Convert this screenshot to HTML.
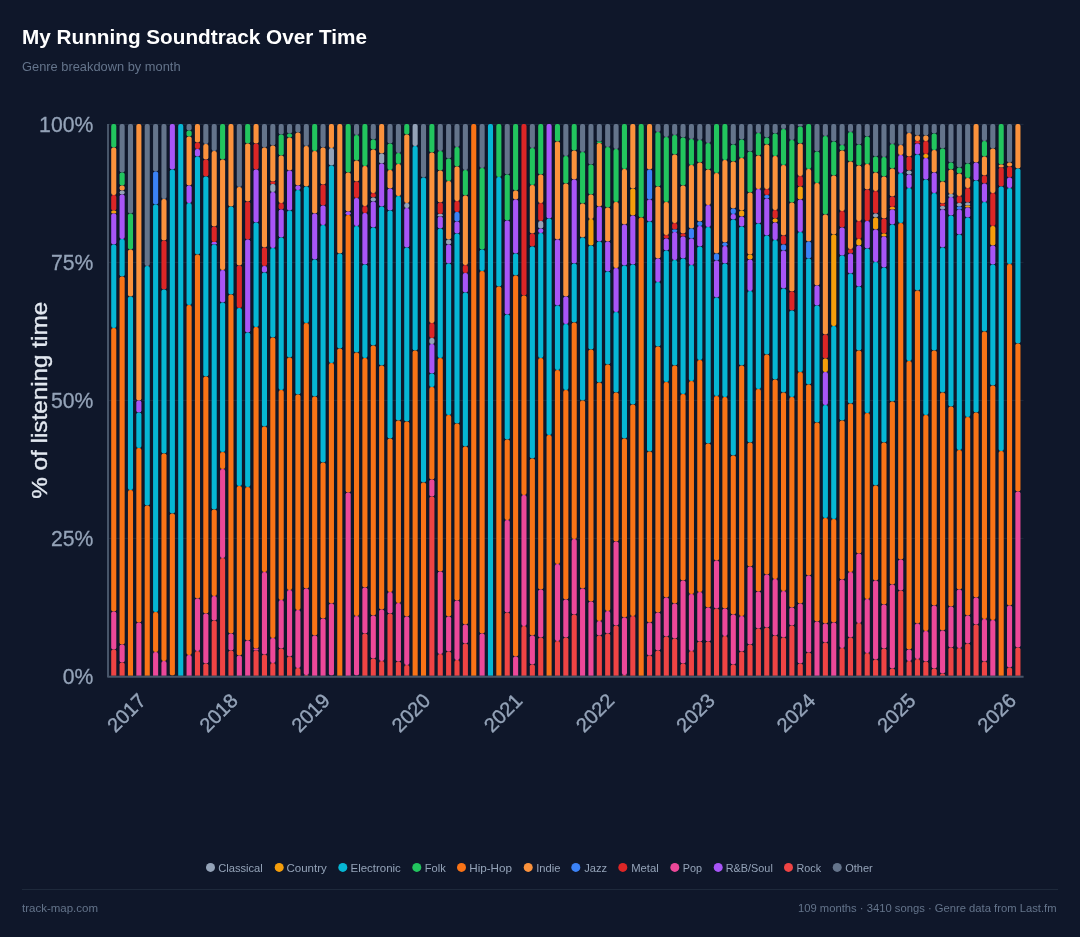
<!DOCTYPE html>
<html><head><meta charset="utf-8"><title>My Running Soundtrack Over Time</title>
<style>
html,body{margin:0;padding:0;background:#0f172a;}
body{width:1080px;height:937px;overflow:hidden;font-family:"Liberation Sans",sans-serif;}
svg{display:block}
text{font-family:"Liberation Sans",sans-serif;}
.tick{font-size:22px;fill:#94a3b8;stroke:#94a3b8;stroke-width:0.3px}
.xt{font-size:20px;fill:#94a3b8;stroke:#94a3b8;stroke-width:0.4px}
.lg{font-size:11px;fill:#94a3b8}
.ft{font-size:11px;fill:#64748b}
</style></head>
<body>
<svg style="will-change:transform" width="1080" height="937" viewBox="0 0 1080 937">
<rect width="1080" height="937" fill="#0f172a"/>
<text id="title" x="22" y="43.9" font-size="20" font-weight="bold" fill="#ffffff" textLength="345" lengthAdjust="spacingAndGlyphs">My Running Soundtrack Over Time</text>
<text id="sub" x="22" y="71.3" font-size="13" fill="#64748b" textLength="158.6" lengthAdjust="spacingAndGlyphs">Genre breakdown by month</text>
<!-- gridlines -->
<g stroke="#1f2a3d" stroke-width="1">
<line x1="108" x2="1023.5" y1="124.4" y2="124.4"/>
<line x1="108" x2="1023.5" y1="262.4" y2="262.4"/>
<line x1="108" x2="1023.5" y1="400.4" y2="400.4"/>
<line x1="108" x2="1023.5" y1="538.4" y2="538.4"/>
</g>
<!-- y tick labels -->
<g class="tick" text-anchor="end">
<text x="93.3" y="132.2" textLength="54.2" lengthAdjust="spacingAndGlyphs">100%</text>
<text x="93.3" y="270.2" textLength="42.4" lengthAdjust="spacingAndGlyphs">75%</text>
<text x="93.3" y="408.2" textLength="42.4" lengthAdjust="spacingAndGlyphs">50%</text>
<text x="93.3" y="546.2" textLength="42.4" lengthAdjust="spacingAndGlyphs">25%</text>
<text x="93.3" y="684.2" textLength="30.6" lengthAdjust="spacingAndGlyphs">0%</text>
</g>
<text id="ytitle" transform="translate(46.5,400.3) rotate(-90)" text-anchor="middle" font-size="21.5" fill="#e2e8f0" stroke="#e2e8f0" stroke-width="0.35" textLength="197" lengthAdjust="spacingAndGlyphs">% of listening time</text>
<defs><clipPath id="cp"><rect x="100" y="100" width="940" height="575.8"/></clipPath></defs>
<g id="bars" clip-path="url(#cp)">
<rect x="111.20" y="124.10" width="5.1" height="23.30" rx="2.00" fill="#22c55e"/>
<rect x="111.20" y="147.40" width="5.1" height="47.60" rx="2.00" fill="#fb923c"/>
<rect x="111.20" y="195.00" width="5.1" height="15.60" rx="2.00" fill="#dc2626"/>
<rect x="111.20" y="210.60" width="5.1" height="3.00" rx="1.50" fill="#f59e0b"/>
<rect x="111.20" y="213.60" width="5.1" height="30.80" rx="2.00" fill="#a855f7"/>
<rect x="111.20" y="244.40" width="5.1" height="83.60" rx="2.00" fill="#06b6d4"/>
<rect x="111.20" y="328.00" width="5.1" height="283.40" rx="2.00" fill="#f97316"/>
<rect x="111.20" y="611.40" width="5.1" height="38.00" rx="2.00" fill="#ec4899"/>
<rect x="111.20" y="649.40" width="5.1" height="30.90" rx="2.00" fill="#ef4444"/>
<rect x="119.57" y="124.10" width="5.1" height="48.50" rx="2.00" fill="#64748b"/>
<rect x="119.57" y="172.60" width="5.1" height="12.80" rx="2.00" fill="#22c55e"/>
<rect x="119.57" y="185.40" width="5.1" height="5.00" rx="2.00" fill="#fb923c"/>
<rect x="119.57" y="190.40" width="5.1" height="4.00" rx="2.00" fill="#94a3b8"/>
<rect x="119.57" y="194.40" width="5.1" height="44.60" rx="2.00" fill="#a855f7"/>
<rect x="119.57" y="239.00" width="5.1" height="37.40" rx="2.00" fill="#06b6d4"/>
<rect x="119.57" y="276.40" width="5.1" height="368.00" rx="2.00" fill="#f97316"/>
<rect x="119.57" y="644.40" width="5.1" height="18.00" rx="2.00" fill="#ec4899"/>
<rect x="119.57" y="662.40" width="5.1" height="17.90" rx="2.00" fill="#ef4444"/>
<rect x="127.94" y="124.10" width="5.1" height="89.50" rx="2.00" fill="#64748b"/>
<rect x="127.94" y="213.60" width="5.1" height="36.00" rx="2.00" fill="#22c55e"/>
<rect x="127.94" y="249.60" width="5.1" height="46.80" rx="2.00" fill="#fb923c"/>
<rect x="127.94" y="296.40" width="5.1" height="193.60" rx="2.00" fill="#06b6d4"/>
<rect x="127.94" y="490.00" width="5.1" height="190.30" rx="2.00" fill="#f97316"/>
<rect x="136.32" y="124.10" width="5.1" height="276.30" rx="2.00" fill="#fb923c"/>
<rect x="136.32" y="400.40" width="5.1" height="12.00" rx="2.00" fill="#a855f7"/>
<rect x="136.32" y="412.40" width="5.1" height="35.60" rx="2.00" fill="#06b6d4"/>
<rect x="136.32" y="448.00" width="5.1" height="174.40" rx="2.00" fill="#f97316"/>
<rect x="136.32" y="622.40" width="5.1" height="57.90" rx="2.00" fill="#ec4899"/>
<rect x="144.69" y="124.10" width="5.1" height="141.90" rx="2.00" fill="#64748b"/>
<rect x="144.69" y="266.00" width="5.1" height="239.60" rx="2.00" fill="#06b6d4"/>
<rect x="144.69" y="505.60" width="5.1" height="174.70" rx="2.00" fill="#f97316"/>
<rect x="153.06" y="124.10" width="5.1" height="47.30" rx="2.00" fill="#64748b"/>
<rect x="153.06" y="171.40" width="5.1" height="33.00" rx="2.00" fill="#3b82f6"/>
<rect x="153.06" y="204.40" width="5.1" height="407.60" rx="2.00" fill="#06b6d4"/>
<rect x="153.06" y="612.00" width="5.1" height="40.00" rx="2.00" fill="#f97316"/>
<rect x="153.06" y="652.00" width="5.1" height="28.30" rx="2.00" fill="#ec4899"/>
<rect x="161.43" y="124.10" width="5.1" height="74.90" rx="2.00" fill="#64748b"/>
<rect x="161.43" y="199.00" width="5.1" height="41.60" rx="2.00" fill="#fb923c"/>
<rect x="161.43" y="240.60" width="5.1" height="49.00" rx="2.00" fill="#dc2626"/>
<rect x="161.43" y="289.60" width="5.1" height="163.80" rx="2.00" fill="#06b6d4"/>
<rect x="161.43" y="453.40" width="5.1" height="207.60" rx="2.00" fill="#f97316"/>
<rect x="161.43" y="661.00" width="5.1" height="19.30" rx="2.00" fill="#ec4899"/>
<rect x="169.80" y="124.10" width="5.1" height="45.30" rx="2.00" fill="#a855f7"/>
<rect x="169.80" y="169.40" width="5.1" height="344.00" rx="2.00" fill="#06b6d4"/>
<rect x="169.80" y="513.40" width="5.1" height="162.20" rx="2.00" fill="#f97316"/>
<rect x="178.18" y="124.10" width="5.1" height="556.20" rx="2.00" fill="#06b6d4"/>
<rect x="186.55" y="124.10" width="5.1" height="6.30" rx="2.00" fill="#64748b"/>
<rect x="186.55" y="130.40" width="5.1" height="6.20" rx="2.00" fill="#22c55e"/>
<rect x="186.55" y="136.60" width="5.1" height="48.80" rx="2.00" fill="#fb923c"/>
<rect x="186.55" y="185.40" width="5.1" height="17.60" rx="2.00" fill="#a855f7"/>
<rect x="186.55" y="203.00" width="5.1" height="102.00" rx="2.00" fill="#06b6d4"/>
<rect x="186.55" y="305.00" width="5.1" height="350.00" rx="2.00" fill="#f97316"/>
<rect x="186.55" y="655.00" width="5.1" height="25.30" rx="2.00" fill="#ec4899"/>
<rect x="194.92" y="124.10" width="5.1" height="18.30" rx="2.00" fill="#fb923c"/>
<rect x="194.92" y="142.40" width="5.1" height="6.60" rx="2.00" fill="#dc2626"/>
<rect x="194.92" y="149.00" width="5.1" height="7.60" rx="2.00" fill="#a855f7"/>
<rect x="194.92" y="156.60" width="5.1" height="97.80" rx="2.00" fill="#06b6d4"/>
<rect x="194.92" y="254.40" width="5.1" height="344.20" rx="2.00" fill="#f97316"/>
<rect x="194.92" y="598.60" width="5.1" height="52.40" rx="2.00" fill="#ec4899"/>
<rect x="194.92" y="651.00" width="5.1" height="29.30" rx="2.00" fill="#ef4444"/>
<rect x="203.29" y="124.10" width="5.1" height="19.90" rx="2.00" fill="#64748b"/>
<rect x="203.29" y="144.00" width="5.1" height="15.60" rx="2.00" fill="#fb923c"/>
<rect x="203.29" y="159.60" width="5.1" height="17.00" rx="2.00" fill="#dc2626"/>
<rect x="203.29" y="176.60" width="5.1" height="199.80" rx="2.00" fill="#06b6d4"/>
<rect x="203.29" y="376.40" width="5.1" height="237.00" rx="2.00" fill="#f97316"/>
<rect x="203.29" y="613.40" width="5.1" height="50.20" rx="2.00" fill="#ec4899"/>
<rect x="203.29" y="663.60" width="5.1" height="16.70" rx="2.00" fill="#ef4444"/>
<rect x="211.66" y="124.10" width="5.1" height="26.90" rx="2.00" fill="#64748b"/>
<rect x="211.66" y="151.00" width="5.1" height="75.60" rx="2.00" fill="#fb923c"/>
<rect x="211.66" y="226.60" width="5.1" height="15.40" rx="2.00" fill="#dc2626"/>
<rect x="211.66" y="242.00" width="5.1" height="2.40" rx="1.20" fill="#a855f7"/>
<rect x="211.66" y="244.40" width="5.1" height="265.00" rx="2.00" fill="#06b6d4"/>
<rect x="211.66" y="509.40" width="5.1" height="86.60" rx="2.00" fill="#f97316"/>
<rect x="211.66" y="596.00" width="5.1" height="24.40" rx="2.00" fill="#ec4899"/>
<rect x="211.66" y="620.40" width="5.1" height="59.90" rx="2.00" fill="#ef4444"/>
<rect x="220.04" y="124.10" width="5.1" height="35.50" rx="2.00" fill="#22c55e"/>
<rect x="220.04" y="159.60" width="5.1" height="110.40" rx="2.00" fill="#fb923c"/>
<rect x="220.04" y="270.00" width="5.1" height="32.40" rx="2.00" fill="#a855f7"/>
<rect x="220.04" y="302.40" width="5.1" height="149.60" rx="2.00" fill="#06b6d4"/>
<rect x="220.04" y="452.00" width="5.1" height="17.00" rx="2.00" fill="#f97316"/>
<rect x="220.04" y="469.00" width="5.1" height="89.00" rx="2.00" fill="#ec4899"/>
<rect x="220.04" y="558.00" width="5.1" height="122.30" rx="2.00" fill="#ef4444"/>
<rect x="228.41" y="124.10" width="5.1" height="82.30" rx="2.00" fill="#fb923c"/>
<rect x="228.41" y="206.40" width="5.1" height="88.00" rx="2.00" fill="#06b6d4"/>
<rect x="228.41" y="294.40" width="5.1" height="339.20" rx="2.00" fill="#f97316"/>
<rect x="228.41" y="633.60" width="5.1" height="17.00" rx="2.00" fill="#ec4899"/>
<rect x="228.41" y="650.60" width="5.1" height="29.70" rx="2.00" fill="#ef4444"/>
<rect x="236.78" y="124.10" width="5.1" height="62.90" rx="2.00" fill="#64748b"/>
<rect x="236.78" y="187.00" width="5.1" height="78.40" rx="2.00" fill="#fb923c"/>
<rect x="236.78" y="265.40" width="5.1" height="42.60" rx="2.00" fill="#dc2626"/>
<rect x="236.78" y="308.00" width="5.1" height="178.00" rx="2.00" fill="#06b6d4"/>
<rect x="236.78" y="486.00" width="5.1" height="169.60" rx="2.00" fill="#f97316"/>
<rect x="236.78" y="655.60" width="5.1" height="24.70" rx="2.00" fill="#ec4899"/>
<rect x="245.15" y="124.10" width="5.1" height="19.30" rx="2.00" fill="#22c55e"/>
<rect x="245.15" y="143.40" width="5.1" height="58.00" rx="2.00" fill="#fb923c"/>
<rect x="245.15" y="201.40" width="5.1" height="38.20" rx="2.00" fill="#dc2626"/>
<rect x="245.15" y="239.60" width="5.1" height="93.00" rx="2.00" fill="#a855f7"/>
<rect x="245.15" y="332.60" width="5.1" height="154.40" rx="2.00" fill="#06b6d4"/>
<rect x="245.15" y="487.00" width="5.1" height="153.60" rx="2.00" fill="#f97316"/>
<rect x="245.15" y="640.60" width="5.1" height="39.70" rx="2.00" fill="#ec4899"/>
<rect x="253.52" y="124.10" width="5.1" height="19.30" rx="2.00" fill="#fb923c"/>
<rect x="253.52" y="143.40" width="5.1" height="26.00" rx="2.00" fill="#dc2626"/>
<rect x="253.52" y="169.40" width="5.1" height="53.20" rx="2.00" fill="#a855f7"/>
<rect x="253.52" y="222.60" width="5.1" height="104.40" rx="2.00" fill="#06b6d4"/>
<rect x="253.52" y="327.00" width="5.1" height="321.60" rx="2.00" fill="#f97316"/>
<rect x="253.52" y="648.60" width="5.1" height="2.00" rx="1.00" fill="#ec4899"/>
<rect x="253.52" y="650.60" width="5.1" height="29.70" rx="2.00" fill="#ef4444"/>
<rect x="261.90" y="124.10" width="5.1" height="23.30" rx="2.00" fill="#64748b"/>
<rect x="261.90" y="147.40" width="5.1" height="100.00" rx="2.00" fill="#fb923c"/>
<rect x="261.90" y="247.40" width="5.1" height="18.60" rx="2.00" fill="#dc2626"/>
<rect x="261.90" y="266.00" width="5.1" height="6.40" rx="2.00" fill="#a855f7"/>
<rect x="261.90" y="272.40" width="5.1" height="154.00" rx="2.00" fill="#06b6d4"/>
<rect x="261.90" y="426.40" width="5.1" height="145.60" rx="2.00" fill="#f97316"/>
<rect x="261.90" y="572.00" width="5.1" height="82.60" rx="2.00" fill="#ec4899"/>
<rect x="261.90" y="654.60" width="5.1" height="25.70" rx="2.00" fill="#ef4444"/>
<rect x="270.27" y="124.10" width="5.1" height="21.30" rx="2.00" fill="#64748b"/>
<rect x="270.27" y="145.40" width="5.1" height="36.20" rx="2.00" fill="#fb923c"/>
<rect x="270.27" y="181.60" width="5.1" height="2.40" rx="1.20" fill="#dc2626"/>
<rect x="270.27" y="184.00" width="5.1" height="8.00" rx="2.00" fill="#94a3b8"/>
<rect x="270.27" y="192.00" width="5.1" height="56.00" rx="2.00" fill="#a855f7"/>
<rect x="270.27" y="248.00" width="5.1" height="89.40" rx="2.00" fill="#06b6d4"/>
<rect x="270.27" y="337.40" width="5.1" height="300.60" rx="2.00" fill="#f97316"/>
<rect x="270.27" y="638.00" width="5.1" height="25.00" rx="2.00" fill="#ec4899"/>
<rect x="270.27" y="663.00" width="5.1" height="17.30" rx="2.00" fill="#ef4444"/>
<rect x="278.64" y="124.10" width="5.1" height="10.50" rx="2.00" fill="#64748b"/>
<rect x="278.64" y="134.60" width="5.1" height="21.00" rx="2.00" fill="#22c55e"/>
<rect x="278.64" y="155.60" width="5.1" height="47.40" rx="2.00" fill="#fb923c"/>
<rect x="278.64" y="203.00" width="5.1" height="6.60" rx="2.00" fill="#dc2626"/>
<rect x="278.64" y="209.60" width="5.1" height="27.80" rx="2.00" fill="#a855f7"/>
<rect x="278.64" y="237.40" width="5.1" height="152.60" rx="2.00" fill="#06b6d4"/>
<rect x="278.64" y="390.00" width="5.1" height="210.00" rx="2.00" fill="#f97316"/>
<rect x="278.64" y="600.00" width="5.1" height="48.40" rx="2.00" fill="#ec4899"/>
<rect x="278.64" y="648.40" width="5.1" height="31.90" rx="2.00" fill="#ef4444"/>
<rect x="287.01" y="124.10" width="5.1" height="9.50" rx="2.00" fill="#64748b"/>
<rect x="287.01" y="133.60" width="5.1" height="4.00" rx="2.00" fill="#22c55e"/>
<rect x="287.01" y="137.60" width="5.1" height="32.80" rx="2.00" fill="#fb923c"/>
<rect x="287.01" y="170.40" width="5.1" height="40.00" rx="2.00" fill="#a855f7"/>
<rect x="287.01" y="210.40" width="5.1" height="147.00" rx="2.00" fill="#06b6d4"/>
<rect x="287.01" y="357.40" width="5.1" height="232.60" rx="2.00" fill="#f97316"/>
<rect x="287.01" y="590.00" width="5.1" height="66.60" rx="2.00" fill="#ec4899"/>
<rect x="287.01" y="656.60" width="5.1" height="23.70" rx="2.00" fill="#ef4444"/>
<rect x="295.38" y="124.10" width="5.1" height="8.30" rx="2.00" fill="#64748b"/>
<rect x="295.38" y="132.40" width="5.1" height="53.00" rx="2.00" fill="#fb923c"/>
<rect x="295.38" y="185.40" width="5.1" height="4.60" rx="2.00" fill="#a855f7"/>
<rect x="295.38" y="190.00" width="5.1" height="204.40" rx="2.00" fill="#06b6d4"/>
<rect x="295.38" y="394.40" width="5.1" height="215.60" rx="2.00" fill="#f97316"/>
<rect x="295.38" y="610.00" width="5.1" height="58.00" rx="2.00" fill="#ec4899"/>
<rect x="295.38" y="668.00" width="5.1" height="12.30" rx="2.00" fill="#ef4444"/>
<rect x="303.76" y="124.10" width="5.1" height="21.90" rx="2.00" fill="#64748b"/>
<rect x="303.76" y="146.00" width="5.1" height="40.60" rx="2.00" fill="#fb923c"/>
<rect x="303.76" y="186.60" width="5.1" height="136.40" rx="2.00" fill="#06b6d4"/>
<rect x="303.76" y="323.00" width="5.1" height="265.40" rx="2.00" fill="#f97316"/>
<rect x="303.76" y="588.40" width="5.1" height="86.60" rx="2.00" fill="#ec4899"/>
<rect x="303.76" y="675.00" width="5.1" height="5.30" rx="2.00" fill="#ef4444"/>
<rect x="312.13" y="124.10" width="5.1" height="26.90" rx="2.00" fill="#22c55e"/>
<rect x="312.13" y="151.00" width="5.1" height="62.40" rx="2.00" fill="#fb923c"/>
<rect x="312.13" y="213.40" width="5.1" height="46.00" rx="2.00" fill="#a855f7"/>
<rect x="312.13" y="259.40" width="5.1" height="137.00" rx="2.00" fill="#06b6d4"/>
<rect x="312.13" y="396.40" width="5.1" height="239.20" rx="2.00" fill="#f97316"/>
<rect x="312.13" y="635.60" width="5.1" height="44.70" rx="2.00" fill="#ec4899"/>
<rect x="320.50" y="124.10" width="5.1" height="23.30" rx="2.00" fill="#64748b"/>
<rect x="320.50" y="147.40" width="5.1" height="37.00" rx="2.00" fill="#fb923c"/>
<rect x="320.50" y="184.40" width="5.1" height="21.20" rx="2.00" fill="#dc2626"/>
<rect x="320.50" y="205.60" width="5.1" height="19.40" rx="2.00" fill="#a855f7"/>
<rect x="320.50" y="225.00" width="5.1" height="237.60" rx="2.00" fill="#06b6d4"/>
<rect x="320.50" y="462.60" width="5.1" height="155.80" rx="2.00" fill="#f97316"/>
<rect x="320.50" y="618.40" width="5.1" height="61.90" rx="2.00" fill="#ec4899"/>
<rect x="328.87" y="124.10" width="5.1" height="23.90" rx="2.00" fill="#fb923c"/>
<rect x="328.87" y="148.00" width="5.1" height="17.60" rx="2.00" fill="#94a3b8"/>
<rect x="328.87" y="165.60" width="5.1" height="197.40" rx="2.00" fill="#06b6d4"/>
<rect x="328.87" y="363.00" width="5.1" height="240.40" rx="2.00" fill="#f97316"/>
<rect x="328.87" y="603.40" width="5.1" height="72.20" rx="2.00" fill="#ec4899"/>
<rect x="337.24" y="124.10" width="5.1" height="129.30" rx="2.00" fill="#fb923c"/>
<rect x="337.24" y="253.40" width="5.1" height="95.00" rx="2.00" fill="#06b6d4"/>
<rect x="337.24" y="348.40" width="5.1" height="331.90" rx="2.00" fill="#f97316"/>
<rect x="345.62" y="124.10" width="5.1" height="48.30" rx="2.00" fill="#22c55e"/>
<rect x="345.62" y="172.40" width="5.1" height="39.20" rx="2.00" fill="#fb923c"/>
<rect x="345.62" y="211.60" width="5.1" height="3.40" rx="1.70" fill="#a855f7"/>
<rect x="345.62" y="215.00" width="5.1" height="277.60" rx="2.00" fill="#f97316"/>
<rect x="345.62" y="492.60" width="5.1" height="187.70" rx="2.00" fill="#ec4899"/>
<rect x="353.99" y="124.10" width="5.1" height="10.90" rx="2.00" fill="#64748b"/>
<rect x="353.99" y="135.00" width="5.1" height="25.60" rx="2.00" fill="#22c55e"/>
<rect x="353.99" y="160.60" width="5.1" height="20.80" rx="2.00" fill="#fb923c"/>
<rect x="353.99" y="181.40" width="5.1" height="16.60" rx="2.00" fill="#dc2626"/>
<rect x="353.99" y="198.00" width="5.1" height="28.00" rx="2.00" fill="#a855f7"/>
<rect x="353.99" y="226.00" width="5.1" height="126.60" rx="2.00" fill="#06b6d4"/>
<rect x="353.99" y="352.60" width="5.1" height="263.40" rx="2.00" fill="#f97316"/>
<rect x="353.99" y="616.00" width="5.1" height="59.60" rx="2.00" fill="#ec4899"/>
<rect x="362.36" y="124.10" width="5.1" height="41.90" rx="2.00" fill="#22c55e"/>
<rect x="362.36" y="166.00" width="5.1" height="40.00" rx="2.00" fill="#fb923c"/>
<rect x="362.36" y="206.00" width="5.1" height="7.00" rx="2.00" fill="#dc2626"/>
<rect x="362.36" y="213.00" width="5.1" height="51.40" rx="2.00" fill="#a855f7"/>
<rect x="362.36" y="264.40" width="5.1" height="93.60" rx="2.00" fill="#06b6d4"/>
<rect x="362.36" y="358.00" width="5.1" height="229.40" rx="2.00" fill="#f97316"/>
<rect x="362.36" y="587.40" width="5.1" height="46.20" rx="2.00" fill="#ec4899"/>
<rect x="362.36" y="633.60" width="5.1" height="46.70" rx="2.00" fill="#ef4444"/>
<rect x="370.73" y="124.10" width="5.1" height="15.50" rx="2.00" fill="#64748b"/>
<rect x="370.73" y="139.60" width="5.1" height="10.00" rx="2.00" fill="#22c55e"/>
<rect x="370.73" y="149.60" width="5.1" height="43.40" rx="2.00" fill="#fb923c"/>
<rect x="370.73" y="193.00" width="5.1" height="4.60" rx="2.00" fill="#dc2626"/>
<rect x="370.73" y="197.60" width="5.1" height="4.00" rx="2.00" fill="#94a3b8"/>
<rect x="370.73" y="201.60" width="5.1" height="25.80" rx="2.00" fill="#a855f7"/>
<rect x="370.73" y="227.40" width="5.1" height="118.00" rx="2.00" fill="#06b6d4"/>
<rect x="370.73" y="345.40" width="5.1" height="270.00" rx="2.00" fill="#f97316"/>
<rect x="370.73" y="615.40" width="5.1" height="43.20" rx="2.00" fill="#ec4899"/>
<rect x="370.73" y="658.60" width="5.1" height="21.70" rx="2.00" fill="#ef4444"/>
<rect x="379.10" y="124.10" width="5.1" height="29.50" rx="2.00" fill="#fb923c"/>
<rect x="379.10" y="153.60" width="5.1" height="9.80" rx="2.00" fill="#94a3b8"/>
<rect x="379.10" y="163.40" width="5.1" height="43.00" rx="2.00" fill="#a855f7"/>
<rect x="379.10" y="206.40" width="5.1" height="159.00" rx="2.00" fill="#06b6d4"/>
<rect x="379.10" y="365.40" width="5.1" height="244.00" rx="2.00" fill="#f97316"/>
<rect x="379.10" y="609.40" width="5.1" height="51.60" rx="2.00" fill="#ec4899"/>
<rect x="379.10" y="661.00" width="5.1" height="19.30" rx="2.00" fill="#ef4444"/>
<rect x="387.48" y="124.10" width="5.1" height="19.30" rx="2.00" fill="#64748b"/>
<rect x="387.48" y="143.40" width="5.1" height="26.60" rx="2.00" fill="#22c55e"/>
<rect x="387.48" y="170.00" width="5.1" height="18.60" rx="2.00" fill="#fb923c"/>
<rect x="387.48" y="188.60" width="5.1" height="22.00" rx="2.00" fill="#a855f7"/>
<rect x="387.48" y="210.60" width="5.1" height="228.00" rx="2.00" fill="#06b6d4"/>
<rect x="387.48" y="438.60" width="5.1" height="153.40" rx="2.00" fill="#f97316"/>
<rect x="387.48" y="592.00" width="5.1" height="21.60" rx="2.00" fill="#ec4899"/>
<rect x="387.48" y="613.60" width="5.1" height="66.70" rx="2.00" fill="#ef4444"/>
<rect x="395.85" y="124.10" width="5.1" height="28.90" rx="2.00" fill="#64748b"/>
<rect x="395.85" y="153.00" width="5.1" height="11.00" rx="2.00" fill="#22c55e"/>
<rect x="395.85" y="164.00" width="5.1" height="32.00" rx="2.00" fill="#fb923c"/>
<rect x="395.85" y="196.00" width="5.1" height="224.40" rx="2.00" fill="#06b6d4"/>
<rect x="395.85" y="420.40" width="5.1" height="182.60" rx="2.00" fill="#f97316"/>
<rect x="395.85" y="603.00" width="5.1" height="58.60" rx="2.00" fill="#ec4899"/>
<rect x="395.85" y="661.60" width="5.1" height="18.70" rx="2.00" fill="#ef4444"/>
<rect x="404.22" y="124.10" width="5.1" height="10.50" rx="2.00" fill="#22c55e"/>
<rect x="404.22" y="134.60" width="5.1" height="68.40" rx="2.00" fill="#fb923c"/>
<rect x="404.22" y="203.00" width="5.1" height="5.00" rx="2.00" fill="#94a3b8"/>
<rect x="404.22" y="208.00" width="5.1" height="39.60" rx="2.00" fill="#a855f7"/>
<rect x="404.22" y="247.60" width="5.1" height="173.80" rx="2.00" fill="#06b6d4"/>
<rect x="404.22" y="421.40" width="5.1" height="195.00" rx="2.00" fill="#f97316"/>
<rect x="404.22" y="616.40" width="5.1" height="48.60" rx="2.00" fill="#ec4899"/>
<rect x="404.22" y="665.00" width="5.1" height="15.30" rx="2.00" fill="#ef4444"/>
<rect x="412.59" y="124.10" width="5.1" height="21.90" rx="2.00" fill="#94a3b8"/>
<rect x="412.59" y="146.00" width="5.1" height="204.40" rx="2.00" fill="#06b6d4"/>
<rect x="412.59" y="350.40" width="5.1" height="329.90" rx="2.00" fill="#f97316"/>
<rect x="420.96" y="124.10" width="5.1" height="53.30" rx="2.00" fill="#64748b"/>
<rect x="420.96" y="177.40" width="5.1" height="305.00" rx="2.00" fill="#06b6d4"/>
<rect x="420.96" y="482.40" width="5.1" height="197.90" rx="2.00" fill="#f97316"/>
<rect x="429.34" y="124.10" width="5.1" height="28.30" rx="2.00" fill="#22c55e"/>
<rect x="429.34" y="152.40" width="5.1" height="170.60" rx="2.00" fill="#fb923c"/>
<rect x="429.34" y="323.00" width="5.1" height="15.00" rx="2.00" fill="#dc2626"/>
<rect x="429.34" y="338.00" width="5.1" height="6.00" rx="2.00" fill="#94a3b8"/>
<rect x="429.34" y="344.00" width="5.1" height="29.60" rx="2.00" fill="#a855f7"/>
<rect x="429.34" y="373.60" width="5.1" height="13.40" rx="2.00" fill="#06b6d4"/>
<rect x="429.34" y="387.00" width="5.1" height="92.40" rx="2.00" fill="#f97316"/>
<rect x="429.34" y="479.40" width="5.1" height="17.00" rx="2.00" fill="#ec4899"/>
<rect x="429.34" y="496.40" width="5.1" height="183.90" rx="2.00" fill="#ef4444"/>
<rect x="437.71" y="124.10" width="5.1" height="26.90" rx="2.00" fill="#64748b"/>
<rect x="437.71" y="151.00" width="5.1" height="19.40" rx="2.00" fill="#22c55e"/>
<rect x="437.71" y="170.40" width="5.1" height="32.00" rx="2.00" fill="#fb923c"/>
<rect x="437.71" y="202.40" width="5.1" height="11.60" rx="2.00" fill="#dc2626"/>
<rect x="437.71" y="214.00" width="5.1" height="2.40" rx="1.20" fill="#94a3b8"/>
<rect x="437.71" y="216.40" width="5.1" height="12.00" rx="2.00" fill="#a855f7"/>
<rect x="437.71" y="228.40" width="5.1" height="129.60" rx="2.00" fill="#06b6d4"/>
<rect x="437.71" y="358.00" width="5.1" height="213.60" rx="2.00" fill="#f97316"/>
<rect x="437.71" y="571.60" width="5.1" height="82.40" rx="2.00" fill="#ec4899"/>
<rect x="437.71" y="654.00" width="5.1" height="26.30" rx="2.00" fill="#ef4444"/>
<rect x="446.08" y="124.10" width="5.1" height="34.50" rx="2.00" fill="#64748b"/>
<rect x="446.08" y="158.60" width="5.1" height="22.40" rx="2.00" fill="#22c55e"/>
<rect x="446.08" y="181.00" width="5.1" height="58.40" rx="2.00" fill="#fb923c"/>
<rect x="446.08" y="239.40" width="5.1" height="5.00" rx="2.00" fill="#94a3b8"/>
<rect x="446.08" y="244.40" width="5.1" height="19.20" rx="2.00" fill="#a855f7"/>
<rect x="446.08" y="263.60" width="5.1" height="151.40" rx="2.00" fill="#06b6d4"/>
<rect x="446.08" y="415.00" width="5.1" height="201.40" rx="2.00" fill="#f97316"/>
<rect x="446.08" y="616.40" width="5.1" height="35.00" rx="2.00" fill="#ec4899"/>
<rect x="446.08" y="651.40" width="5.1" height="28.90" rx="2.00" fill="#ef4444"/>
<rect x="454.45" y="124.10" width="5.1" height="22.90" rx="2.00" fill="#64748b"/>
<rect x="454.45" y="147.00" width="5.1" height="19.40" rx="2.00" fill="#22c55e"/>
<rect x="454.45" y="166.40" width="5.1" height="34.60" rx="2.00" fill="#fb923c"/>
<rect x="454.45" y="201.00" width="5.1" height="11.00" rx="2.00" fill="#dc2626"/>
<rect x="454.45" y="212.00" width="5.1" height="9.40" rx="2.00" fill="#3b82f6"/>
<rect x="454.45" y="221.40" width="5.1" height="12.00" rx="2.00" fill="#a855f7"/>
<rect x="454.45" y="233.40" width="5.1" height="190.00" rx="2.00" fill="#06b6d4"/>
<rect x="454.45" y="423.40" width="5.1" height="177.20" rx="2.00" fill="#f97316"/>
<rect x="454.45" y="600.60" width="5.1" height="59.40" rx="2.00" fill="#ec4899"/>
<rect x="454.45" y="660.00" width="5.1" height="20.30" rx="2.00" fill="#ef4444"/>
<rect x="462.82" y="124.10" width="5.1" height="45.90" rx="2.00" fill="#64748b"/>
<rect x="462.82" y="170.00" width="5.1" height="25.60" rx="2.00" fill="#22c55e"/>
<rect x="462.82" y="195.60" width="5.1" height="69.40" rx="2.00" fill="#fb923c"/>
<rect x="462.82" y="265.00" width="5.1" height="8.00" rx="2.00" fill="#dc2626"/>
<rect x="462.82" y="273.00" width="5.1" height="19.40" rx="2.00" fill="#a855f7"/>
<rect x="462.82" y="292.40" width="5.1" height="154.00" rx="2.00" fill="#06b6d4"/>
<rect x="462.82" y="446.40" width="5.1" height="178.00" rx="2.00" fill="#f97316"/>
<rect x="462.82" y="624.40" width="5.1" height="19.20" rx="2.00" fill="#ec4899"/>
<rect x="462.82" y="643.60" width="5.1" height="36.70" rx="2.00" fill="#ef4444"/>
<rect x="471.20" y="124.10" width="5.1" height="556.20" rx="2.00" fill="#f97316"/>
<rect x="479.57" y="124.10" width="5.1" height="43.90" rx="2.00" fill="#64748b"/>
<rect x="479.57" y="168.00" width="5.1" height="81.40" rx="2.00" fill="#22c55e"/>
<rect x="479.57" y="249.40" width="5.1" height="21.60" rx="2.00" fill="#06b6d4"/>
<rect x="479.57" y="271.00" width="5.1" height="362.40" rx="2.00" fill="#f97316"/>
<rect x="479.57" y="633.40" width="5.1" height="46.90" rx="2.00" fill="#ec4899"/>
<rect x="487.94" y="124.10" width="5.1" height="556.20" rx="2.00" fill="#06b6d4"/>
<rect x="496.31" y="124.10" width="5.1" height="52.90" rx="2.00" fill="#22c55e"/>
<rect x="496.31" y="177.00" width="5.1" height="109.60" rx="2.00" fill="#06b6d4"/>
<rect x="496.31" y="286.60" width="5.1" height="393.70" rx="2.00" fill="#f97316"/>
<rect x="504.68" y="124.10" width="5.1" height="50.50" rx="2.00" fill="#64748b"/>
<rect x="504.68" y="174.60" width="5.1" height="45.80" rx="2.00" fill="#22c55e"/>
<rect x="504.68" y="220.40" width="5.1" height="94.20" rx="2.00" fill="#a855f7"/>
<rect x="504.68" y="314.60" width="5.1" height="124.80" rx="2.00" fill="#06b6d4"/>
<rect x="504.68" y="439.40" width="5.1" height="80.60" rx="2.00" fill="#f97316"/>
<rect x="504.68" y="520.00" width="5.1" height="92.40" rx="2.00" fill="#ec4899"/>
<rect x="504.68" y="612.40" width="5.1" height="67.90" rx="2.00" fill="#ef4444"/>
<rect x="513.06" y="124.10" width="5.1" height="66.30" rx="2.00" fill="#22c55e"/>
<rect x="513.06" y="190.40" width="5.1" height="9.00" rx="2.00" fill="#fb923c"/>
<rect x="513.06" y="199.40" width="5.1" height="54.00" rx="2.00" fill="#a855f7"/>
<rect x="513.06" y="253.40" width="5.1" height="22.20" rx="2.00" fill="#06b6d4"/>
<rect x="513.06" y="275.60" width="5.1" height="380.80" rx="2.00" fill="#f97316"/>
<rect x="513.06" y="656.40" width="5.1" height="23.90" rx="2.00" fill="#ec4899"/>
<rect x="521.43" y="124.10" width="5.1" height="171.30" rx="2.00" fill="#dc2626"/>
<rect x="521.43" y="295.40" width="5.1" height="199.60" rx="2.00" fill="#f97316"/>
<rect x="521.43" y="495.00" width="5.1" height="131.00" rx="2.00" fill="#ec4899"/>
<rect x="521.43" y="626.00" width="5.1" height="54.30" rx="2.00" fill="#ef4444"/>
<rect x="529.80" y="124.10" width="5.1" height="23.90" rx="2.00" fill="#64748b"/>
<rect x="529.80" y="148.00" width="5.1" height="37.00" rx="2.00" fill="#22c55e"/>
<rect x="529.80" y="185.00" width="5.1" height="48.60" rx="2.00" fill="#fb923c"/>
<rect x="529.80" y="233.60" width="5.1" height="12.80" rx="2.00" fill="#dc2626"/>
<rect x="529.80" y="246.40" width="5.1" height="212.00" rx="2.00" fill="#06b6d4"/>
<rect x="529.80" y="458.40" width="5.1" height="177.00" rx="2.00" fill="#f97316"/>
<rect x="529.80" y="635.40" width="5.1" height="29.20" rx="2.00" fill="#ec4899"/>
<rect x="529.80" y="664.60" width="5.1" height="15.70" rx="2.00" fill="#ef4444"/>
<rect x="538.17" y="124.10" width="5.1" height="50.30" rx="2.00" fill="#22c55e"/>
<rect x="538.17" y="174.40" width="5.1" height="28.60" rx="2.00" fill="#fb923c"/>
<rect x="538.17" y="203.00" width="5.1" height="18.00" rx="2.00" fill="#dc2626"/>
<rect x="538.17" y="221.00" width="5.1" height="7.60" rx="2.00" fill="#94a3b8"/>
<rect x="538.17" y="228.60" width="5.1" height="4.40" rx="2.00" fill="#a855f7"/>
<rect x="538.17" y="233.00" width="5.1" height="125.00" rx="2.00" fill="#06b6d4"/>
<rect x="538.17" y="358.00" width="5.1" height="231.40" rx="2.00" fill="#f97316"/>
<rect x="538.17" y="589.40" width="5.1" height="48.00" rx="2.00" fill="#ec4899"/>
<rect x="538.17" y="637.40" width="5.1" height="42.90" rx="2.00" fill="#ef4444"/>
<rect x="546.54" y="124.10" width="5.1" height="94.30" rx="2.00" fill="#a855f7"/>
<rect x="546.54" y="218.40" width="5.1" height="216.60" rx="2.00" fill="#06b6d4"/>
<rect x="546.54" y="435.00" width="5.1" height="245.30" rx="2.00" fill="#f97316"/>
<rect x="554.92" y="124.10" width="5.1" height="17.50" rx="2.00" fill="#22c55e"/>
<rect x="554.92" y="141.60" width="5.1" height="97.80" rx="2.00" fill="#fb923c"/>
<rect x="554.92" y="239.40" width="5.1" height="66.20" rx="2.00" fill="#a855f7"/>
<rect x="554.92" y="305.60" width="5.1" height="64.40" rx="2.00" fill="#06b6d4"/>
<rect x="554.92" y="370.00" width="5.1" height="194.00" rx="2.00" fill="#f97316"/>
<rect x="554.92" y="564.00" width="5.1" height="77.00" rx="2.00" fill="#ec4899"/>
<rect x="554.92" y="641.00" width="5.1" height="39.30" rx="2.00" fill="#ef4444"/>
<rect x="563.29" y="124.10" width="5.1" height="31.90" rx="2.00" fill="#64748b"/>
<rect x="563.29" y="156.00" width="5.1" height="27.40" rx="2.00" fill="#22c55e"/>
<rect x="563.29" y="183.40" width="5.1" height="113.00" rx="2.00" fill="#fb923c"/>
<rect x="563.29" y="296.40" width="5.1" height="27.60" rx="2.00" fill="#a855f7"/>
<rect x="563.29" y="324.00" width="5.1" height="66.00" rx="2.00" fill="#06b6d4"/>
<rect x="563.29" y="390.00" width="5.1" height="209.60" rx="2.00" fill="#f97316"/>
<rect x="563.29" y="599.60" width="5.1" height="37.80" rx="2.00" fill="#ec4899"/>
<rect x="563.29" y="637.40" width="5.1" height="42.90" rx="2.00" fill="#ef4444"/>
<rect x="571.66" y="124.10" width="5.1" height="26.50" rx="2.00" fill="#22c55e"/>
<rect x="571.66" y="150.60" width="5.1" height="29.00" rx="2.00" fill="#fb923c"/>
<rect x="571.66" y="179.60" width="5.1" height="84.00" rx="2.00" fill="#a855f7"/>
<rect x="571.66" y="263.60" width="5.1" height="59.00" rx="2.00" fill="#06b6d4"/>
<rect x="571.66" y="322.60" width="5.1" height="216.40" rx="2.00" fill="#f97316"/>
<rect x="571.66" y="539.00" width="5.1" height="75.40" rx="2.00" fill="#ec4899"/>
<rect x="571.66" y="614.40" width="5.1" height="65.90" rx="2.00" fill="#ef4444"/>
<rect x="580.03" y="124.10" width="5.1" height="27.90" rx="2.00" fill="#64748b"/>
<rect x="580.03" y="152.00" width="5.1" height="51.60" rx="2.00" fill="#22c55e"/>
<rect x="580.03" y="203.60" width="5.1" height="33.80" rx="2.00" fill="#fb923c"/>
<rect x="580.03" y="237.40" width="5.1" height="163.00" rx="2.00" fill="#06b6d4"/>
<rect x="580.03" y="400.40" width="5.1" height="188.20" rx="2.00" fill="#f97316"/>
<rect x="580.03" y="588.60" width="5.1" height="91.70" rx="2.00" fill="#ec4899"/>
<rect x="588.40" y="124.10" width="5.1" height="40.50" rx="2.00" fill="#64748b"/>
<rect x="588.40" y="164.60" width="5.1" height="30.00" rx="2.00" fill="#22c55e"/>
<rect x="588.40" y="194.60" width="5.1" height="24.40" rx="2.00" fill="#fb923c"/>
<rect x="588.40" y="219.00" width="5.1" height="26.40" rx="2.00" fill="#f59e0b"/>
<rect x="588.40" y="245.40" width="5.1" height="104.20" rx="2.00" fill="#06b6d4"/>
<rect x="588.40" y="349.60" width="5.1" height="251.80" rx="2.00" fill="#f97316"/>
<rect x="588.40" y="601.40" width="5.1" height="78.90" rx="2.00" fill="#ec4899"/>
<rect x="596.78" y="124.10" width="5.1" height="17.30" rx="2.00" fill="#64748b"/>
<rect x="596.78" y="141.40" width="5.1" height="1.60" rx="0.80" fill="#22c55e"/>
<rect x="596.78" y="143.00" width="5.1" height="63.40" rx="2.00" fill="#fb923c"/>
<rect x="596.78" y="206.40" width="5.1" height="35.00" rx="2.00" fill="#a855f7"/>
<rect x="596.78" y="241.40" width="5.1" height="141.00" rx="2.00" fill="#06b6d4"/>
<rect x="596.78" y="382.40" width="5.1" height="238.60" rx="2.00" fill="#f97316"/>
<rect x="596.78" y="621.00" width="5.1" height="14.60" rx="2.00" fill="#ec4899"/>
<rect x="596.78" y="635.60" width="5.1" height="44.70" rx="2.00" fill="#ef4444"/>
<rect x="605.15" y="124.10" width="5.1" height="22.90" rx="2.00" fill="#64748b"/>
<rect x="605.15" y="147.00" width="5.1" height="60.40" rx="2.00" fill="#22c55e"/>
<rect x="605.15" y="207.40" width="5.1" height="34.00" rx="2.00" fill="#fb923c"/>
<rect x="605.15" y="241.40" width="5.1" height="30.00" rx="2.00" fill="#a855f7"/>
<rect x="605.15" y="271.40" width="5.1" height="93.00" rx="2.00" fill="#06b6d4"/>
<rect x="605.15" y="364.40" width="5.1" height="246.60" rx="2.00" fill="#f97316"/>
<rect x="605.15" y="611.00" width="5.1" height="22.40" rx="2.00" fill="#ec4899"/>
<rect x="605.15" y="633.40" width="5.1" height="46.90" rx="2.00" fill="#ef4444"/>
<rect x="613.52" y="124.10" width="5.1" height="24.90" rx="2.00" fill="#64748b"/>
<rect x="613.52" y="149.00" width="5.1" height="53.00" rx="2.00" fill="#22c55e"/>
<rect x="613.52" y="202.00" width="5.1" height="66.00" rx="2.00" fill="#fb923c"/>
<rect x="613.52" y="268.00" width="5.1" height="44.00" rx="2.00" fill="#a855f7"/>
<rect x="613.52" y="312.00" width="5.1" height="80.40" rx="2.00" fill="#06b6d4"/>
<rect x="613.52" y="392.40" width="5.1" height="149.00" rx="2.00" fill="#f97316"/>
<rect x="613.52" y="541.40" width="5.1" height="84.00" rx="2.00" fill="#ec4899"/>
<rect x="613.52" y="625.40" width="5.1" height="54.90" rx="2.00" fill="#ef4444"/>
<rect x="621.89" y="124.10" width="5.1" height="44.90" rx="2.00" fill="#22c55e"/>
<rect x="621.89" y="169.00" width="5.1" height="55.60" rx="2.00" fill="#fb923c"/>
<rect x="621.89" y="224.60" width="5.1" height="40.80" rx="2.00" fill="#a855f7"/>
<rect x="621.89" y="265.40" width="5.1" height="173.00" rx="2.00" fill="#06b6d4"/>
<rect x="621.89" y="438.40" width="5.1" height="179.00" rx="2.00" fill="#f97316"/>
<rect x="621.89" y="617.40" width="5.1" height="57.60" rx="2.00" fill="#ec4899"/>
<rect x="621.89" y="675.00" width="5.1" height="5.30" rx="2.00" fill="#ef4444"/>
<rect x="630.26" y="124.10" width="5.1" height="64.30" rx="2.00" fill="#fb923c"/>
<rect x="630.26" y="188.40" width="5.1" height="27.00" rx="2.00" fill="#f59e0b"/>
<rect x="630.26" y="215.40" width="5.1" height="49.00" rx="2.00" fill="#a855f7"/>
<rect x="630.26" y="264.40" width="5.1" height="140.00" rx="2.00" fill="#06b6d4"/>
<rect x="630.26" y="404.40" width="5.1" height="211.60" rx="2.00" fill="#f97316"/>
<rect x="630.26" y="616.00" width="5.1" height="64.30" rx="2.00" fill="#ef4444"/>
<rect x="638.64" y="124.10" width="5.1" height="93.50" rx="2.00" fill="#22c55e"/>
<rect x="638.64" y="217.60" width="5.1" height="462.70" rx="2.00" fill="#f97316"/>
<rect x="647.01" y="124.10" width="5.1" height="45.30" rx="2.00" fill="#fb923c"/>
<rect x="647.01" y="169.40" width="5.1" height="30.00" rx="2.00" fill="#3b82f6"/>
<rect x="647.01" y="199.40" width="5.1" height="22.20" rx="2.00" fill="#a855f7"/>
<rect x="647.01" y="221.60" width="5.1" height="230.00" rx="2.00" fill="#06b6d4"/>
<rect x="647.01" y="451.60" width="5.1" height="171.00" rx="2.00" fill="#f97316"/>
<rect x="647.01" y="622.60" width="5.1" height="33.00" rx="2.00" fill="#ec4899"/>
<rect x="647.01" y="655.60" width="5.1" height="24.70" rx="2.00" fill="#ef4444"/>
<rect x="655.38" y="124.10" width="5.1" height="7.90" rx="2.00" fill="#64748b"/>
<rect x="655.38" y="132.00" width="5.1" height="54.60" rx="2.00" fill="#22c55e"/>
<rect x="655.38" y="186.60" width="5.1" height="71.80" rx="2.00" fill="#fb923c"/>
<rect x="655.38" y="258.40" width="5.1" height="23.60" rx="2.00" fill="#a855f7"/>
<rect x="655.38" y="282.00" width="5.1" height="64.40" rx="2.00" fill="#06b6d4"/>
<rect x="655.38" y="346.40" width="5.1" height="266.00" rx="2.00" fill="#f97316"/>
<rect x="655.38" y="612.40" width="5.1" height="38.00" rx="2.00" fill="#ec4899"/>
<rect x="655.38" y="650.40" width="5.1" height="29.90" rx="2.00" fill="#ef4444"/>
<rect x="663.75" y="124.10" width="5.1" height="12.90" rx="2.00" fill="#64748b"/>
<rect x="663.75" y="137.00" width="5.1" height="65.00" rx="2.00" fill="#22c55e"/>
<rect x="663.75" y="202.00" width="5.1" height="33.00" rx="2.00" fill="#fb923c"/>
<rect x="663.75" y="235.00" width="5.1" height="3.40" rx="1.70" fill="#dc2626"/>
<rect x="663.75" y="238.40" width="5.1" height="12.20" rx="2.00" fill="#a855f7"/>
<rect x="663.75" y="250.60" width="5.1" height="131.40" rx="2.00" fill="#06b6d4"/>
<rect x="663.75" y="382.00" width="5.1" height="215.40" rx="2.00" fill="#f97316"/>
<rect x="663.75" y="597.40" width="5.1" height="39.20" rx="2.00" fill="#ec4899"/>
<rect x="663.75" y="636.60" width="5.1" height="43.70" rx="2.00" fill="#ef4444"/>
<rect x="672.12" y="124.10" width="5.1" height="10.90" rx="2.00" fill="#64748b"/>
<rect x="672.12" y="135.00" width="5.1" height="19.60" rx="2.00" fill="#22c55e"/>
<rect x="672.12" y="154.60" width="5.1" height="68.40" rx="2.00" fill="#fb923c"/>
<rect x="672.12" y="223.00" width="5.1" height="6.60" rx="2.00" fill="#dc2626"/>
<rect x="672.12" y="229.60" width="5.1" height="2.40" rx="1.20" fill="#3b82f6"/>
<rect x="672.12" y="232.00" width="5.1" height="28.00" rx="2.00" fill="#a855f7"/>
<rect x="672.12" y="260.00" width="5.1" height="105.40" rx="2.00" fill="#06b6d4"/>
<rect x="672.12" y="365.40" width="5.1" height="238.20" rx="2.00" fill="#f97316"/>
<rect x="672.12" y="603.60" width="5.1" height="34.80" rx="2.00" fill="#ec4899"/>
<rect x="672.12" y="638.40" width="5.1" height="41.90" rx="2.00" fill="#ef4444"/>
<rect x="680.50" y="124.10" width="5.1" height="13.50" rx="2.00" fill="#64748b"/>
<rect x="680.50" y="137.60" width="5.1" height="48.00" rx="2.00" fill="#22c55e"/>
<rect x="680.50" y="185.60" width="5.1" height="47.80" rx="2.00" fill="#fb923c"/>
<rect x="680.50" y="233.40" width="5.1" height="3.20" rx="1.60" fill="#dc2626"/>
<rect x="680.50" y="236.60" width="5.1" height="22.00" rx="2.00" fill="#a855f7"/>
<rect x="680.50" y="258.60" width="5.1" height="135.40" rx="2.00" fill="#06b6d4"/>
<rect x="680.50" y="394.00" width="5.1" height="186.40" rx="2.00" fill="#f97316"/>
<rect x="680.50" y="580.40" width="5.1" height="83.00" rx="2.00" fill="#ec4899"/>
<rect x="680.50" y="663.40" width="5.1" height="16.90" rx="2.00" fill="#ef4444"/>
<rect x="688.87" y="124.10" width="5.1" height="14.90" rx="2.00" fill="#64748b"/>
<rect x="688.87" y="139.00" width="5.1" height="26.00" rx="2.00" fill="#22c55e"/>
<rect x="688.87" y="165.00" width="5.1" height="63.60" rx="2.00" fill="#fb923c"/>
<rect x="688.87" y="228.60" width="5.1" height="9.80" rx="2.00" fill="#3b82f6"/>
<rect x="688.87" y="238.40" width="5.1" height="26.60" rx="2.00" fill="#a855f7"/>
<rect x="688.87" y="265.00" width="5.1" height="116.00" rx="2.00" fill="#06b6d4"/>
<rect x="688.87" y="381.00" width="5.1" height="213.00" rx="2.00" fill="#f97316"/>
<rect x="688.87" y="594.00" width="5.1" height="57.00" rx="2.00" fill="#ec4899"/>
<rect x="688.87" y="651.00" width="5.1" height="29.30" rx="2.00" fill="#ef4444"/>
<rect x="697.24" y="124.10" width="5.1" height="15.90" rx="2.00" fill="#64748b"/>
<rect x="697.24" y="140.00" width="5.1" height="22.60" rx="2.00" fill="#22c55e"/>
<rect x="697.24" y="162.60" width="5.1" height="59.00" rx="2.00" fill="#fb923c"/>
<rect x="697.24" y="221.60" width="5.1" height="4.40" rx="2.00" fill="#3b82f6"/>
<rect x="697.24" y="226.00" width="5.1" height="20.40" rx="2.00" fill="#a855f7"/>
<rect x="697.24" y="246.40" width="5.1" height="113.60" rx="2.00" fill="#06b6d4"/>
<rect x="697.24" y="360.00" width="5.1" height="232.00" rx="2.00" fill="#f97316"/>
<rect x="697.24" y="592.00" width="5.1" height="49.60" rx="2.00" fill="#ec4899"/>
<rect x="697.24" y="641.60" width="5.1" height="38.70" rx="2.00" fill="#ef4444"/>
<rect x="705.61" y="124.10" width="5.1" height="18.90" rx="2.00" fill="#64748b"/>
<rect x="705.61" y="143.00" width="5.1" height="26.60" rx="2.00" fill="#22c55e"/>
<rect x="705.61" y="169.60" width="5.1" height="35.40" rx="2.00" fill="#fb923c"/>
<rect x="705.61" y="205.00" width="5.1" height="22.00" rx="2.00" fill="#a855f7"/>
<rect x="705.61" y="227.00" width="5.1" height="216.40" rx="2.00" fill="#06b6d4"/>
<rect x="705.61" y="443.40" width="5.1" height="164.00" rx="2.00" fill="#f97316"/>
<rect x="705.61" y="607.40" width="5.1" height="34.20" rx="2.00" fill="#ec4899"/>
<rect x="705.61" y="641.60" width="5.1" height="38.70" rx="2.00" fill="#ef4444"/>
<rect x="713.98" y="124.10" width="5.1" height="48.90" rx="2.00" fill="#22c55e"/>
<rect x="713.98" y="173.00" width="5.1" height="80.60" rx="2.00" fill="#fb923c"/>
<rect x="713.98" y="253.60" width="5.1" height="6.80" rx="2.00" fill="#3b82f6"/>
<rect x="713.98" y="260.40" width="5.1" height="37.20" rx="2.00" fill="#a855f7"/>
<rect x="713.98" y="297.60" width="5.1" height="98.40" rx="2.00" fill="#06b6d4"/>
<rect x="713.98" y="396.00" width="5.1" height="164.40" rx="2.00" fill="#f97316"/>
<rect x="713.98" y="560.40" width="5.1" height="48.00" rx="2.00" fill="#ec4899"/>
<rect x="713.98" y="608.40" width="5.1" height="71.90" rx="2.00" fill="#ef4444"/>
<rect x="722.36" y="124.10" width="5.1" height="35.90" rx="2.00" fill="#22c55e"/>
<rect x="722.36" y="160.00" width="5.1" height="82.40" rx="2.00" fill="#fb923c"/>
<rect x="722.36" y="242.40" width="5.1" height="3.60" rx="1.80" fill="#3b82f6"/>
<rect x="722.36" y="246.00" width="5.1" height="17.60" rx="2.00" fill="#a855f7"/>
<rect x="722.36" y="263.60" width="5.1" height="133.40" rx="2.00" fill="#06b6d4"/>
<rect x="722.36" y="397.00" width="5.1" height="211.60" rx="2.00" fill="#f97316"/>
<rect x="722.36" y="608.60" width="5.1" height="27.40" rx="2.00" fill="#ec4899"/>
<rect x="722.36" y="636.00" width="5.1" height="44.30" rx="2.00" fill="#ef4444"/>
<rect x="730.73" y="124.10" width="5.1" height="20.30" rx="2.00" fill="#64748b"/>
<rect x="730.73" y="144.40" width="5.1" height="17.00" rx="2.00" fill="#22c55e"/>
<rect x="730.73" y="161.40" width="5.1" height="47.20" rx="2.00" fill="#fb923c"/>
<rect x="730.73" y="208.60" width="5.1" height="5.40" rx="2.00" fill="#3b82f6"/>
<rect x="730.73" y="214.00" width="5.1" height="5.60" rx="2.00" fill="#a855f7"/>
<rect x="730.73" y="219.60" width="5.1" height="235.80" rx="2.00" fill="#06b6d4"/>
<rect x="730.73" y="455.40" width="5.1" height="159.20" rx="2.00" fill="#f97316"/>
<rect x="730.73" y="614.60" width="5.1" height="50.00" rx="2.00" fill="#ec4899"/>
<rect x="730.73" y="664.60" width="5.1" height="15.70" rx="2.00" fill="#ef4444"/>
<rect x="739.10" y="124.10" width="5.1" height="15.50" rx="2.00" fill="#64748b"/>
<rect x="739.10" y="139.60" width="5.1" height="18.40" rx="2.00" fill="#22c55e"/>
<rect x="739.10" y="158.00" width="5.1" height="52.40" rx="2.00" fill="#fb923c"/>
<rect x="739.10" y="210.40" width="5.1" height="6.00" rx="2.00" fill="#f59e0b"/>
<rect x="739.10" y="216.40" width="5.1" height="10.00" rx="2.00" fill="#a855f7"/>
<rect x="739.10" y="226.40" width="5.1" height="139.20" rx="2.00" fill="#06b6d4"/>
<rect x="739.10" y="365.60" width="5.1" height="250.40" rx="2.00" fill="#f97316"/>
<rect x="739.10" y="616.00" width="5.1" height="35.40" rx="2.00" fill="#ec4899"/>
<rect x="739.10" y="651.40" width="5.1" height="28.90" rx="2.00" fill="#ef4444"/>
<rect x="747.47" y="124.10" width="5.1" height="27.50" rx="2.00" fill="#64748b"/>
<rect x="747.47" y="151.60" width="5.1" height="40.80" rx="2.00" fill="#22c55e"/>
<rect x="747.47" y="192.40" width="5.1" height="62.20" rx="2.00" fill="#fb923c"/>
<rect x="747.47" y="254.60" width="5.1" height="5.00" rx="2.00" fill="#f59e0b"/>
<rect x="747.47" y="259.60" width="5.1" height="31.40" rx="2.00" fill="#a855f7"/>
<rect x="747.47" y="291.00" width="5.1" height="151.60" rx="2.00" fill="#06b6d4"/>
<rect x="747.47" y="442.60" width="5.1" height="123.80" rx="2.00" fill="#f97316"/>
<rect x="747.47" y="566.40" width="5.1" height="78.00" rx="2.00" fill="#ec4899"/>
<rect x="747.47" y="644.40" width="5.1" height="35.90" rx="2.00" fill="#ef4444"/>
<rect x="755.84" y="124.10" width="5.1" height="8.90" rx="2.00" fill="#64748b"/>
<rect x="755.84" y="133.00" width="5.1" height="22.60" rx="2.00" fill="#22c55e"/>
<rect x="755.84" y="155.60" width="5.1" height="33.40" rx="2.00" fill="#fb923c"/>
<rect x="755.84" y="189.00" width="5.1" height="34.40" rx="2.00" fill="#a855f7"/>
<rect x="755.84" y="223.40" width="5.1" height="165.60" rx="2.00" fill="#06b6d4"/>
<rect x="755.84" y="389.00" width="5.1" height="202.60" rx="2.00" fill="#f97316"/>
<rect x="755.84" y="591.60" width="5.1" height="37.00" rx="2.00" fill="#ec4899"/>
<rect x="755.84" y="628.60" width="5.1" height="51.70" rx="2.00" fill="#ef4444"/>
<rect x="764.22" y="124.10" width="5.1" height="13.50" rx="2.00" fill="#64748b"/>
<rect x="764.22" y="137.60" width="5.1" height="6.80" rx="2.00" fill="#22c55e"/>
<rect x="764.22" y="144.40" width="5.1" height="44.60" rx="2.00" fill="#fb923c"/>
<rect x="764.22" y="189.00" width="5.1" height="6.00" rx="2.00" fill="#dc2626"/>
<rect x="764.22" y="195.00" width="5.1" height="3.60" rx="1.80" fill="#3b82f6"/>
<rect x="764.22" y="198.60" width="5.1" height="37.00" rx="2.00" fill="#a855f7"/>
<rect x="764.22" y="235.60" width="5.1" height="119.00" rx="2.00" fill="#06b6d4"/>
<rect x="764.22" y="354.60" width="5.1" height="220.00" rx="2.00" fill="#f97316"/>
<rect x="764.22" y="574.60" width="5.1" height="53.00" rx="2.00" fill="#ec4899"/>
<rect x="764.22" y="627.60" width="5.1" height="52.70" rx="2.00" fill="#ef4444"/>
<rect x="772.59" y="124.10" width="5.1" height="9.50" rx="2.00" fill="#64748b"/>
<rect x="772.59" y="133.60" width="5.1" height="22.40" rx="2.00" fill="#22c55e"/>
<rect x="772.59" y="156.00" width="5.1" height="54.00" rx="2.00" fill="#fb923c"/>
<rect x="772.59" y="210.00" width="5.1" height="8.60" rx="2.00" fill="#dc2626"/>
<rect x="772.59" y="218.60" width="5.1" height="3.80" rx="1.90" fill="#f59e0b"/>
<rect x="772.59" y="222.40" width="5.1" height="17.60" rx="2.00" fill="#a855f7"/>
<rect x="772.59" y="240.00" width="5.1" height="139.40" rx="2.00" fill="#06b6d4"/>
<rect x="772.59" y="379.40" width="5.1" height="199.60" rx="2.00" fill="#f97316"/>
<rect x="772.59" y="579.00" width="5.1" height="56.40" rx="2.00" fill="#ec4899"/>
<rect x="772.59" y="635.40" width="5.1" height="44.90" rx="2.00" fill="#ef4444"/>
<rect x="780.96" y="124.10" width="5.1" height="4.90" rx="2.00" fill="#64748b"/>
<rect x="780.96" y="129.00" width="5.1" height="36.00" rx="2.00" fill="#22c55e"/>
<rect x="780.96" y="165.00" width="5.1" height="70.40" rx="2.00" fill="#fb923c"/>
<rect x="780.96" y="235.40" width="5.1" height="9.00" rx="2.00" fill="#dc2626"/>
<rect x="780.96" y="244.40" width="5.1" height="6.00" rx="2.00" fill="#3b82f6"/>
<rect x="780.96" y="250.40" width="5.1" height="38.00" rx="2.00" fill="#a855f7"/>
<rect x="780.96" y="288.40" width="5.1" height="104.20" rx="2.00" fill="#06b6d4"/>
<rect x="780.96" y="392.60" width="5.1" height="198.40" rx="2.00" fill="#f97316"/>
<rect x="780.96" y="591.00" width="5.1" height="46.40" rx="2.00" fill="#ec4899"/>
<rect x="780.96" y="637.40" width="5.1" height="42.90" rx="2.00" fill="#ef4444"/>
<rect x="789.33" y="124.10" width="5.1" height="15.90" rx="2.00" fill="#64748b"/>
<rect x="789.33" y="140.00" width="5.1" height="62.40" rx="2.00" fill="#22c55e"/>
<rect x="789.33" y="202.40" width="5.1" height="89.00" rx="2.00" fill="#fb923c"/>
<rect x="789.33" y="291.40" width="5.1" height="19.20" rx="2.00" fill="#dc2626"/>
<rect x="789.33" y="310.60" width="5.1" height="86.40" rx="2.00" fill="#06b6d4"/>
<rect x="789.33" y="397.00" width="5.1" height="210.60" rx="2.00" fill="#f97316"/>
<rect x="789.33" y="607.60" width="5.1" height="17.80" rx="2.00" fill="#ec4899"/>
<rect x="789.33" y="625.40" width="5.1" height="54.90" rx="2.00" fill="#ef4444"/>
<rect x="797.70" y="124.10" width="5.1" height="2.30" rx="1.15" fill="#64748b"/>
<rect x="797.70" y="126.40" width="5.1" height="17.00" rx="2.00" fill="#22c55e"/>
<rect x="797.70" y="143.40" width="5.1" height="32.60" rx="2.00" fill="#fb923c"/>
<rect x="797.70" y="176.00" width="5.1" height="10.60" rx="2.00" fill="#dc2626"/>
<rect x="797.70" y="186.60" width="5.1" height="12.80" rx="2.00" fill="#f59e0b"/>
<rect x="797.70" y="199.40" width="5.1" height="32.60" rx="2.00" fill="#a855f7"/>
<rect x="797.70" y="232.00" width="5.1" height="140.00" rx="2.00" fill="#06b6d4"/>
<rect x="797.70" y="372.00" width="5.1" height="231.60" rx="2.00" fill="#f97316"/>
<rect x="797.70" y="603.60" width="5.1" height="59.80" rx="2.00" fill="#ec4899"/>
<rect x="797.70" y="663.40" width="5.1" height="16.90" rx="2.00" fill="#ef4444"/>
<rect x="806.08" y="124.10" width="5.1" height="44.90" rx="2.00" fill="#22c55e"/>
<rect x="806.08" y="169.00" width="5.1" height="72.40" rx="2.00" fill="#fb923c"/>
<rect x="806.08" y="241.40" width="5.1" height="17.00" rx="2.00" fill="#3b82f6"/>
<rect x="806.08" y="258.40" width="5.1" height="126.00" rx="2.00" fill="#06b6d4"/>
<rect x="806.08" y="384.40" width="5.1" height="191.20" rx="2.00" fill="#f97316"/>
<rect x="806.08" y="575.60" width="5.1" height="76.80" rx="2.00" fill="#ec4899"/>
<rect x="806.08" y="652.40" width="5.1" height="27.90" rx="2.00" fill="#ef4444"/>
<rect x="814.45" y="124.10" width="5.1" height="27.30" rx="2.00" fill="#64748b"/>
<rect x="814.45" y="151.40" width="5.1" height="31.60" rx="2.00" fill="#22c55e"/>
<rect x="814.45" y="183.00" width="5.1" height="102.60" rx="2.00" fill="#fb923c"/>
<rect x="814.45" y="285.60" width="5.1" height="20.00" rx="2.00" fill="#a855f7"/>
<rect x="814.45" y="305.60" width="5.1" height="117.00" rx="2.00" fill="#06b6d4"/>
<rect x="814.45" y="422.60" width="5.1" height="198.80" rx="2.00" fill="#f97316"/>
<rect x="814.45" y="621.40" width="5.1" height="58.90" rx="2.00" fill="#ec4899"/>
<rect x="822.82" y="124.10" width="5.1" height="11.90" rx="2.00" fill="#64748b"/>
<rect x="822.82" y="136.00" width="5.1" height="78.60" rx="2.00" fill="#22c55e"/>
<rect x="822.82" y="214.60" width="5.1" height="119.80" rx="2.00" fill="#fb923c"/>
<rect x="822.82" y="334.40" width="5.1" height="24.20" rx="2.00" fill="#dc2626"/>
<rect x="822.82" y="358.60" width="5.1" height="13.40" rx="2.00" fill="#f59e0b"/>
<rect x="822.82" y="372.00" width="5.1" height="33.00" rx="2.00" fill="#a855f7"/>
<rect x="822.82" y="405.00" width="5.1" height="113.00" rx="2.00" fill="#06b6d4"/>
<rect x="822.82" y="518.00" width="5.1" height="105.60" rx="2.00" fill="#f97316"/>
<rect x="822.82" y="623.60" width="5.1" height="19.00" rx="2.00" fill="#ec4899"/>
<rect x="822.82" y="642.60" width="5.1" height="37.70" rx="2.00" fill="#ef4444"/>
<rect x="831.19" y="124.10" width="5.1" height="17.30" rx="2.00" fill="#64748b"/>
<rect x="831.19" y="141.40" width="5.1" height="34.00" rx="2.00" fill="#22c55e"/>
<rect x="831.19" y="175.40" width="5.1" height="59.20" rx="2.00" fill="#fb923c"/>
<rect x="831.19" y="234.60" width="5.1" height="91.40" rx="2.00" fill="#f59e0b"/>
<rect x="831.19" y="326.00" width="5.1" height="193.00" rx="2.00" fill="#06b6d4"/>
<rect x="831.19" y="519.00" width="5.1" height="103.60" rx="2.00" fill="#f97316"/>
<rect x="831.19" y="622.60" width="5.1" height="57.70" rx="2.00" fill="#ec4899"/>
<rect x="839.56" y="124.10" width="5.1" height="20.90" rx="2.00" fill="#64748b"/>
<rect x="839.56" y="145.00" width="5.1" height="5.60" rx="2.00" fill="#22c55e"/>
<rect x="839.56" y="150.60" width="5.1" height="60.40" rx="2.00" fill="#fb923c"/>
<rect x="839.56" y="211.00" width="5.1" height="16.40" rx="2.00" fill="#dc2626"/>
<rect x="839.56" y="227.40" width="5.1" height="28.20" rx="2.00" fill="#a855f7"/>
<rect x="839.56" y="255.60" width="5.1" height="165.00" rx="2.00" fill="#06b6d4"/>
<rect x="839.56" y="420.60" width="5.1" height="158.80" rx="2.00" fill="#f97316"/>
<rect x="839.56" y="579.40" width="5.1" height="68.60" rx="2.00" fill="#ec4899"/>
<rect x="839.56" y="648.00" width="5.1" height="32.30" rx="2.00" fill="#ef4444"/>
<rect x="847.94" y="124.10" width="5.1" height="7.90" rx="2.00" fill="#64748b"/>
<rect x="847.94" y="132.00" width="5.1" height="29.40" rx="2.00" fill="#22c55e"/>
<rect x="847.94" y="161.40" width="5.1" height="87.60" rx="2.00" fill="#fb923c"/>
<rect x="847.94" y="249.00" width="5.1" height="4.60" rx="2.00" fill="#dc2626"/>
<rect x="847.94" y="253.60" width="5.1" height="19.80" rx="2.00" fill="#a855f7"/>
<rect x="847.94" y="273.40" width="5.1" height="130.20" rx="2.00" fill="#06b6d4"/>
<rect x="847.94" y="403.60" width="5.1" height="168.40" rx="2.00" fill="#f97316"/>
<rect x="847.94" y="572.00" width="5.1" height="65.60" rx="2.00" fill="#ec4899"/>
<rect x="847.94" y="637.60" width="5.1" height="42.70" rx="2.00" fill="#ef4444"/>
<rect x="856.31" y="124.10" width="5.1" height="20.30" rx="2.00" fill="#64748b"/>
<rect x="856.31" y="144.40" width="5.1" height="21.20" rx="2.00" fill="#22c55e"/>
<rect x="856.31" y="165.60" width="5.1" height="55.40" rx="2.00" fill="#fb923c"/>
<rect x="856.31" y="221.00" width="5.1" height="18.00" rx="2.00" fill="#dc2626"/>
<rect x="856.31" y="239.00" width="5.1" height="6.60" rx="2.00" fill="#f59e0b"/>
<rect x="856.31" y="245.60" width="5.1" height="41.00" rx="2.00" fill="#a855f7"/>
<rect x="856.31" y="286.60" width="5.1" height="64.00" rx="2.00" fill="#06b6d4"/>
<rect x="856.31" y="350.60" width="5.1" height="202.80" rx="2.00" fill="#f97316"/>
<rect x="856.31" y="553.40" width="5.1" height="69.60" rx="2.00" fill="#ec4899"/>
<rect x="856.31" y="623.00" width="5.1" height="57.30" rx="2.00" fill="#ef4444"/>
<rect x="864.68" y="124.10" width="5.1" height="12.50" rx="2.00" fill="#64748b"/>
<rect x="864.68" y="136.60" width="5.1" height="27.40" rx="2.00" fill="#22c55e"/>
<rect x="864.68" y="164.00" width="5.1" height="25.40" rx="2.00" fill="#fb923c"/>
<rect x="864.68" y="189.40" width="5.1" height="31.60" rx="2.00" fill="#dc2626"/>
<rect x="864.68" y="221.00" width="5.1" height="27.60" rx="2.00" fill="#a855f7"/>
<rect x="864.68" y="248.60" width="5.1" height="164.40" rx="2.00" fill="#06b6d4"/>
<rect x="864.68" y="413.00" width="5.1" height="186.00" rx="2.00" fill="#f97316"/>
<rect x="864.68" y="599.00" width="5.1" height="54.00" rx="2.00" fill="#ec4899"/>
<rect x="864.68" y="653.00" width="5.1" height="27.30" rx="2.00" fill="#ef4444"/>
<rect x="873.05" y="124.10" width="5.1" height="32.50" rx="2.00" fill="#64748b"/>
<rect x="873.05" y="156.60" width="5.1" height="15.80" rx="2.00" fill="#22c55e"/>
<rect x="873.05" y="172.40" width="5.1" height="18.60" rx="2.00" fill="#fb923c"/>
<rect x="873.05" y="191.00" width="5.1" height="22.60" rx="2.00" fill="#dc2626"/>
<rect x="873.05" y="213.60" width="5.1" height="4.00" rx="2.00" fill="#94a3b8"/>
<rect x="873.05" y="217.60" width="5.1" height="12.00" rx="2.00" fill="#f59e0b"/>
<rect x="873.05" y="229.60" width="5.1" height="32.40" rx="2.00" fill="#a855f7"/>
<rect x="873.05" y="262.00" width="5.1" height="223.40" rx="2.00" fill="#06b6d4"/>
<rect x="873.05" y="485.40" width="5.1" height="95.00" rx="2.00" fill="#f97316"/>
<rect x="873.05" y="580.40" width="5.1" height="79.00" rx="2.00" fill="#ec4899"/>
<rect x="873.05" y="659.40" width="5.1" height="20.90" rx="2.00" fill="#ef4444"/>
<rect x="881.42" y="124.10" width="5.1" height="32.90" rx="2.00" fill="#64748b"/>
<rect x="881.42" y="157.00" width="5.1" height="19.40" rx="2.00" fill="#22c55e"/>
<rect x="881.42" y="176.40" width="5.1" height="42.20" rx="2.00" fill="#fb923c"/>
<rect x="881.42" y="218.60" width="5.1" height="14.80" rx="2.00" fill="#dc2626"/>
<rect x="881.42" y="233.40" width="5.1" height="3.20" rx="1.60" fill="#f59e0b"/>
<rect x="881.42" y="236.60" width="5.1" height="30.80" rx="2.00" fill="#a855f7"/>
<rect x="881.42" y="267.40" width="5.1" height="175.20" rx="2.00" fill="#06b6d4"/>
<rect x="881.42" y="442.60" width="5.1" height="161.80" rx="2.00" fill="#f97316"/>
<rect x="881.42" y="604.40" width="5.1" height="44.20" rx="2.00" fill="#ec4899"/>
<rect x="881.42" y="648.60" width="5.1" height="31.70" rx="2.00" fill="#ef4444"/>
<rect x="889.80" y="124.10" width="5.1" height="19.90" rx="2.00" fill="#64748b"/>
<rect x="889.80" y="144.00" width="5.1" height="24.40" rx="2.00" fill="#22c55e"/>
<rect x="889.80" y="168.40" width="5.1" height="28.00" rx="2.00" fill="#fb923c"/>
<rect x="889.80" y="196.40" width="5.1" height="10.60" rx="2.00" fill="#dc2626"/>
<rect x="889.80" y="207.00" width="5.1" height="2.40" rx="1.20" fill="#f59e0b"/>
<rect x="889.80" y="209.40" width="5.1" height="15.20" rx="2.00" fill="#a855f7"/>
<rect x="889.80" y="224.60" width="5.1" height="176.80" rx="2.00" fill="#06b6d4"/>
<rect x="889.80" y="401.40" width="5.1" height="183.20" rx="2.00" fill="#f97316"/>
<rect x="889.80" y="584.60" width="5.1" height="83.80" rx="2.00" fill="#ec4899"/>
<rect x="889.80" y="668.40" width="5.1" height="11.90" rx="2.00" fill="#ef4444"/>
<rect x="898.17" y="124.10" width="5.1" height="20.90" rx="2.00" fill="#64748b"/>
<rect x="898.17" y="145.00" width="5.1" height="10.00" rx="2.00" fill="#fb923c"/>
<rect x="898.17" y="155.00" width="5.1" height="18.00" rx="2.00" fill="#a855f7"/>
<rect x="898.17" y="173.00" width="5.1" height="50.00" rx="2.00" fill="#06b6d4"/>
<rect x="898.17" y="223.00" width="5.1" height="336.40" rx="2.00" fill="#f97316"/>
<rect x="898.17" y="559.40" width="5.1" height="31.00" rx="2.00" fill="#ec4899"/>
<rect x="898.17" y="590.40" width="5.1" height="89.90" rx="2.00" fill="#ef4444"/>
<rect x="906.54" y="124.10" width="5.1" height="8.90" rx="2.00" fill="#64748b"/>
<rect x="906.54" y="133.00" width="5.1" height="23.40" rx="2.00" fill="#fb923c"/>
<rect x="906.54" y="156.40" width="5.1" height="14.00" rx="2.00" fill="#dc2626"/>
<rect x="906.54" y="170.40" width="5.1" height="4.00" rx="2.00" fill="#94a3b8"/>
<rect x="906.54" y="174.40" width="5.1" height="13.60" rx="2.00" fill="#a855f7"/>
<rect x="906.54" y="188.00" width="5.1" height="173.00" rx="2.00" fill="#06b6d4"/>
<rect x="906.54" y="361.00" width="5.1" height="288.40" rx="2.00" fill="#f97316"/>
<rect x="906.54" y="649.40" width="5.1" height="11.60" rx="2.00" fill="#ec4899"/>
<rect x="906.54" y="661.00" width="5.1" height="19.30" rx="2.00" fill="#ef4444"/>
<rect x="914.91" y="124.10" width="5.1" height="11.50" rx="2.00" fill="#64748b"/>
<rect x="914.91" y="135.60" width="5.1" height="5.40" rx="2.00" fill="#fb923c"/>
<rect x="914.91" y="141.00" width="5.1" height="2.40" rx="1.20" fill="#dc2626"/>
<rect x="914.91" y="143.40" width="5.1" height="11.20" rx="2.00" fill="#a855f7"/>
<rect x="914.91" y="154.60" width="5.1" height="135.80" rx="2.00" fill="#06b6d4"/>
<rect x="914.91" y="290.40" width="5.1" height="333.00" rx="2.00" fill="#f97316"/>
<rect x="914.91" y="623.40" width="5.1" height="35.60" rx="2.00" fill="#ec4899"/>
<rect x="914.91" y="659.00" width="5.1" height="21.30" rx="2.00" fill="#ef4444"/>
<rect x="923.28" y="124.10" width="5.1" height="11.50" rx="2.00" fill="#64748b"/>
<rect x="923.28" y="135.60" width="5.1" height="5.40" rx="2.00" fill="#fb923c"/>
<rect x="923.28" y="141.00" width="5.1" height="13.00" rx="2.00" fill="#dc2626"/>
<rect x="923.28" y="154.00" width="5.1" height="4.00" rx="2.00" fill="#f59e0b"/>
<rect x="923.28" y="158.00" width="5.1" height="21.40" rx="2.00" fill="#a855f7"/>
<rect x="923.28" y="179.40" width="5.1" height="235.60" rx="2.00" fill="#06b6d4"/>
<rect x="923.28" y="415.00" width="5.1" height="216.00" rx="2.00" fill="#f97316"/>
<rect x="923.28" y="631.00" width="5.1" height="30.60" rx="2.00" fill="#ec4899"/>
<rect x="923.28" y="661.60" width="5.1" height="18.70" rx="2.00" fill="#ef4444"/>
<rect x="931.66" y="124.10" width="5.1" height="9.50" rx="2.00" fill="#64748b"/>
<rect x="931.66" y="133.60" width="5.1" height="16.40" rx="2.00" fill="#22c55e"/>
<rect x="931.66" y="150.00" width="5.1" height="22.60" rx="2.00" fill="#fb923c"/>
<rect x="931.66" y="172.60" width="5.1" height="20.40" rx="2.00" fill="#a855f7"/>
<rect x="931.66" y="193.00" width="5.1" height="157.60" rx="2.00" fill="#06b6d4"/>
<rect x="931.66" y="350.60" width="5.1" height="255.00" rx="2.00" fill="#f97316"/>
<rect x="931.66" y="605.60" width="5.1" height="62.80" rx="2.00" fill="#ec4899"/>
<rect x="931.66" y="668.40" width="5.1" height="11.90" rx="2.00" fill="#ef4444"/>
<rect x="940.03" y="124.10" width="5.1" height="24.30" rx="2.00" fill="#64748b"/>
<rect x="940.03" y="148.40" width="5.1" height="33.20" rx="2.00" fill="#22c55e"/>
<rect x="940.03" y="181.60" width="5.1" height="21.80" rx="2.00" fill="#fb923c"/>
<rect x="940.03" y="203.40" width="5.1" height="2.60" rx="1.30" fill="#dc2626"/>
<rect x="940.03" y="206.00" width="5.1" height="3.40" rx="1.70" fill="#94a3b8"/>
<rect x="940.03" y="209.40" width="5.1" height="38.00" rx="2.00" fill="#a855f7"/>
<rect x="940.03" y="247.40" width="5.1" height="145.20" rx="2.00" fill="#06b6d4"/>
<rect x="940.03" y="392.60" width="5.1" height="237.80" rx="2.00" fill="#f97316"/>
<rect x="940.03" y="630.40" width="5.1" height="43.00" rx="2.00" fill="#ec4899"/>
<rect x="940.03" y="673.40" width="5.1" height="6.90" rx="2.00" fill="#ef4444"/>
<rect x="948.40" y="124.10" width="5.1" height="38.50" rx="2.00" fill="#64748b"/>
<rect x="948.40" y="162.60" width="5.1" height="6.80" rx="2.00" fill="#22c55e"/>
<rect x="948.40" y="169.40" width="5.1" height="24.60" rx="2.00" fill="#fb923c"/>
<rect x="948.40" y="194.00" width="5.1" height="3.00" rx="1.50" fill="#94a3b8"/>
<rect x="948.40" y="197.00" width="5.1" height="18.60" rx="2.00" fill="#a855f7"/>
<rect x="948.40" y="215.60" width="5.1" height="191.00" rx="2.00" fill="#06b6d4"/>
<rect x="948.40" y="406.60" width="5.1" height="199.80" rx="2.00" fill="#f97316"/>
<rect x="948.40" y="606.40" width="5.1" height="41.00" rx="2.00" fill="#ec4899"/>
<rect x="948.40" y="647.40" width="5.1" height="32.90" rx="2.00" fill="#ef4444"/>
<rect x="956.77" y="124.10" width="5.1" height="43.30" rx="2.00" fill="#64748b"/>
<rect x="956.77" y="167.40" width="5.1" height="6.20" rx="2.00" fill="#22c55e"/>
<rect x="956.77" y="173.60" width="5.1" height="22.40" rx="2.00" fill="#fb923c"/>
<rect x="956.77" y="196.00" width="5.1" height="7.00" rx="2.00" fill="#dc2626"/>
<rect x="956.77" y="203.00" width="5.1" height="3.40" rx="1.70" fill="#94a3b8"/>
<rect x="956.77" y="206.40" width="5.1" height="3.00" rx="1.50" fill="#3b82f6"/>
<rect x="956.77" y="209.40" width="5.1" height="25.00" rx="2.00" fill="#a855f7"/>
<rect x="956.77" y="234.40" width="5.1" height="215.60" rx="2.00" fill="#06b6d4"/>
<rect x="956.77" y="450.00" width="5.1" height="139.60" rx="2.00" fill="#f97316"/>
<rect x="956.77" y="589.60" width="5.1" height="58.40" rx="2.00" fill="#ec4899"/>
<rect x="956.77" y="648.00" width="5.1" height="32.30" rx="2.00" fill="#ef4444"/>
<rect x="965.14" y="124.10" width="5.1" height="39.50" rx="2.00" fill="#64748b"/>
<rect x="965.14" y="163.60" width="5.1" height="14.40" rx="2.00" fill="#22c55e"/>
<rect x="965.14" y="178.00" width="5.1" height="10.00" rx="2.00" fill="#fb923c"/>
<rect x="965.14" y="188.00" width="5.1" height="14.40" rx="2.00" fill="#dc2626"/>
<rect x="965.14" y="202.40" width="5.1" height="3.20" rx="1.60" fill="#94a3b8"/>
<rect x="965.14" y="205.60" width="5.1" height="2.00" rx="1.00" fill="#f59e0b"/>
<rect x="965.14" y="207.60" width="5.1" height="10.00" rx="2.00" fill="#a855f7"/>
<rect x="965.14" y="217.60" width="5.1" height="199.40" rx="2.00" fill="#06b6d4"/>
<rect x="965.14" y="417.00" width="5.1" height="198.60" rx="2.00" fill="#f97316"/>
<rect x="965.14" y="615.60" width="5.1" height="27.80" rx="2.00" fill="#ec4899"/>
<rect x="965.14" y="643.40" width="5.1" height="36.90" rx="2.00" fill="#ef4444"/>
<rect x="973.52" y="124.10" width="5.1" height="38.30" rx="2.00" fill="#fb923c"/>
<rect x="973.52" y="162.40" width="5.1" height="18.00" rx="2.00" fill="#a855f7"/>
<rect x="973.52" y="180.40" width="5.1" height="232.20" rx="2.00" fill="#06b6d4"/>
<rect x="973.52" y="412.60" width="5.1" height="184.80" rx="2.00" fill="#f97316"/>
<rect x="973.52" y="597.40" width="5.1" height="27.00" rx="2.00" fill="#ec4899"/>
<rect x="973.52" y="624.40" width="5.1" height="55.90" rx="2.00" fill="#ef4444"/>
<rect x="981.89" y="124.10" width="5.1" height="16.90" rx="2.00" fill="#64748b"/>
<rect x="981.89" y="141.00" width="5.1" height="15.40" rx="2.00" fill="#22c55e"/>
<rect x="981.89" y="156.40" width="5.1" height="19.00" rx="2.00" fill="#fb923c"/>
<rect x="981.89" y="175.40" width="5.1" height="8.20" rx="2.00" fill="#dc2626"/>
<rect x="981.89" y="183.60" width="5.1" height="18.40" rx="2.00" fill="#a855f7"/>
<rect x="981.89" y="202.00" width="5.1" height="129.40" rx="2.00" fill="#06b6d4"/>
<rect x="981.89" y="331.40" width="5.1" height="287.60" rx="2.00" fill="#f97316"/>
<rect x="981.89" y="619.00" width="5.1" height="42.60" rx="2.00" fill="#ec4899"/>
<rect x="981.89" y="661.60" width="5.1" height="18.70" rx="2.00" fill="#ef4444"/>
<rect x="990.26" y="124.10" width="5.1" height="24.30" rx="2.00" fill="#64748b"/>
<rect x="990.26" y="148.40" width="5.1" height="44.60" rx="2.00" fill="#fb923c"/>
<rect x="990.26" y="193.00" width="5.1" height="33.00" rx="2.00" fill="#dc2626"/>
<rect x="990.26" y="226.00" width="5.1" height="19.60" rx="2.00" fill="#f59e0b"/>
<rect x="990.26" y="245.60" width="5.1" height="18.80" rx="2.00" fill="#a855f7"/>
<rect x="990.26" y="264.40" width="5.1" height="121.00" rx="2.00" fill="#06b6d4"/>
<rect x="990.26" y="385.40" width="5.1" height="234.60" rx="2.00" fill="#f97316"/>
<rect x="990.26" y="620.00" width="5.1" height="60.30" rx="2.00" fill="#ec4899"/>
<rect x="998.63" y="124.10" width="5.1" height="40.30" rx="2.00" fill="#22c55e"/>
<rect x="998.63" y="164.40" width="5.1" height="3.00" rx="1.50" fill="#fb923c"/>
<rect x="998.63" y="167.40" width="5.1" height="19.00" rx="2.00" fill="#dc2626"/>
<rect x="998.63" y="186.40" width="5.1" height="264.60" rx="2.00" fill="#06b6d4"/>
<rect x="998.63" y="451.00" width="5.1" height="229.30" rx="2.00" fill="#f97316"/>
<rect x="1007.00" y="124.10" width="5.1" height="38.50" rx="2.00" fill="#64748b"/>
<rect x="1007.00" y="162.60" width="5.1" height="3.80" rx="1.90" fill="#fb923c"/>
<rect x="1007.00" y="166.40" width="5.1" height="11.20" rx="2.00" fill="#dc2626"/>
<rect x="1007.00" y="177.60" width="5.1" height="10.40" rx="2.00" fill="#a855f7"/>
<rect x="1007.00" y="188.00" width="5.1" height="76.00" rx="2.00" fill="#06b6d4"/>
<rect x="1007.00" y="264.00" width="5.1" height="341.40" rx="2.00" fill="#f97316"/>
<rect x="1007.00" y="605.40" width="5.1" height="62.20" rx="2.00" fill="#ec4899"/>
<rect x="1007.00" y="667.60" width="5.1" height="12.70" rx="2.00" fill="#ef4444"/>
<rect x="1015.38" y="124.10" width="5.1" height="44.30" rx="2.00" fill="#fb923c"/>
<rect x="1015.38" y="168.40" width="5.1" height="175.20" rx="2.00" fill="#06b6d4"/>
<rect x="1015.38" y="343.60" width="5.1" height="147.80" rx="2.00" fill="#f97316"/>
<rect x="1015.38" y="491.40" width="5.1" height="156.00" rx="2.00" fill="#ec4899"/>
<rect x="1015.38" y="647.40" width="5.1" height="32.90" rx="2.00" fill="#ef4444"/>
</g>
<!-- axes -->
<path d="M108,124 L108,676.8 L1023.6,676.8" fill="none" stroke="#475569" stroke-width="2" stroke-linejoin="round"/>
<!-- x labels -->
<g class="xt" text-anchor="end">
<text transform="translate(147.0,702) rotate(-45)">2017</text>
<text transform="translate(239.1,702) rotate(-45)">2018</text>
<text transform="translate(331.1,702) rotate(-45)">2019</text>
<text transform="translate(431.5,702) rotate(-45)">2020</text>
<text transform="translate(523.6,702) rotate(-45)">2021</text>
<text transform="translate(615.6,702) rotate(-45)">2022</text>
<text transform="translate(716.0,702) rotate(-45)">2023</text>
<text transform="translate(816.5,702) rotate(-45)">2024</text>
<text transform="translate(916.9,702) rotate(-45)">2025</text>
<text transform="translate(1017.3,702) rotate(-45)">2026</text>
</g>
<!-- legend -->
<g id="legend">
<circle cx="210.5" cy="867.4" r="4.5" fill="#94a3b8"/><text class="lg" x="218.2" y="871.6" textLength="44.6" lengthAdjust="spacingAndGlyphs">Classical</text>
<circle cx="279.2" cy="867.4" r="4.5" fill="#f59e0b"/><text class="lg" x="286.5" y="871.6" textLength="40.3" lengthAdjust="spacingAndGlyphs">Country</text>
<circle cx="342.8" cy="867.4" r="4.5" fill="#06b6d4"/><text class="lg" x="350.5" y="871.6" textLength="50.3" lengthAdjust="spacingAndGlyphs">Electronic</text>
<circle cx="416.8" cy="867.4" r="4.5" fill="#22c55e"/><text class="lg" x="424.8" y="871.6" textLength="21.0" lengthAdjust="spacingAndGlyphs">Folk</text>
<circle cx="461.5" cy="867.4" r="4.5" fill="#f97316"/><text class="lg" x="469.2" y="871.6" textLength="42.9" lengthAdjust="spacingAndGlyphs">Hip-Hop</text>
<circle cx="528.2" cy="867.4" r="4.5" fill="#fb923c"/><text class="lg" x="536.2" y="871.6" textLength="24.2" lengthAdjust="spacingAndGlyphs">Indie</text>
<circle cx="575.8" cy="867.4" r="4.5" fill="#3b82f6"/><text class="lg" x="584.2" y="871.6" textLength="22.9" lengthAdjust="spacingAndGlyphs">Jazz</text>
<circle cx="622.8" cy="867.4" r="4.5" fill="#dc2626"/><text class="lg" x="631.2" y="871.6" textLength="27.6" lengthAdjust="spacingAndGlyphs">Metal</text>
<circle cx="674.8" cy="867.4" r="4.5" fill="#ec4899"/><text class="lg" x="682.8" y="871.6" textLength="19.3" lengthAdjust="spacingAndGlyphs">Pop</text>
<circle cx="718.2" cy="867.4" r="4.5" fill="#a855f7"/><text class="lg" x="725.8" y="871.6" textLength="47.0" lengthAdjust="spacingAndGlyphs">R&amp;B/Soul</text>
<circle cx="788.5" cy="867.4" r="4.5" fill="#ef4444"/><text class="lg" x="796.5" y="871.6" textLength="24.6" lengthAdjust="spacingAndGlyphs">Rock</text>
<circle cx="837.2" cy="867.4" r="4.5" fill="#64748b"/><text class="lg" x="845.2" y="871.6" textLength="27.6" lengthAdjust="spacingAndGlyphs">Other</text>
</g>
<line x1="22" x2="1058" y1="889.5" y2="889.5" stroke="#1e293b" stroke-width="1"/>
<text class="ft" x="22" y="911.6" textLength="76" lengthAdjust="spacingAndGlyphs">track-map.com</text>
<text class="ft" x="1056.5" y="911.6" text-anchor="end" textLength="258.5" lengthAdjust="spacingAndGlyphs">109 months · 3410 songs · Genre data from Last.fm</text>
</svg>
</body></html>
